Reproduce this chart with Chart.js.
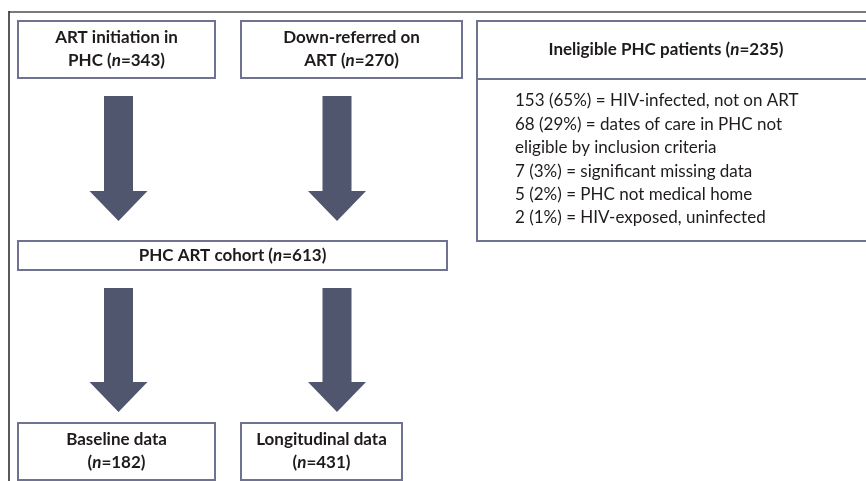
<!DOCTYPE html>
<html>
<head>
<meta charset="utf-8">
<script src="https://cdn.jsdelivr.net/npm/chart.js@4/dist/chart.umd.min.js"></script>
<style>
  html, body { margin: 0; padding: 0; background: #fff; }
  #wrap { width: 866px; height: 481px; }
</style>
</head>
<body>
<div id="wrap"><canvas id="flow" width="866" height="481"></canvas></div>
<script>
// flow boxes: first line, second line prefix, n
const boxTitles = ["ART initiation in", "Down-referred on", "PHC ART cohort", "Baseline data", "Longitudinal data"];
const boxSecond = ["PHC ", "ART ", "", "", ""];
const boxCounts = [343, 270, 613, 182, 431];

// excluded patients
const ineligibleTotal = 235;
const reasonCounts = [153, 68, 7, 5, 2];
const reasonPercents = [65, 29, 3, 2, 1];
const reasonLabels = [
  "HIV-infected, not on ART",
  "dates of care in PHC not\neligible by inclusion criteria",
  "significant missing data",
  "PHC not medical home",
  "HIV-exposed, uninfected"
];

// layout in scale units (x: 0..866, y: 0..481 top-down)
const boxX0 = [18, 241, 18, 18, 241];
const boxX1 = [215, 462, 447, 215, 402];
const boxY0 = [21, 21, 241, 423, 423];
const boxY1 = [78, 78, 270, 480, 480];
const arrowX = [118.5, 337, 118.5, 337];
const arrowTop = [96, 96, 288, 288];
const arrowTip = [221, 221, 412, 412];

const ink = "#1f1b1c";
const edge = "#6f7290";
const arrowFill = "#51566f";
const family = "Lato, 'Open Sans', sans-serif";
const fs = 17;

function drawRich(ctx, parts, cx, cy) {
  let w = 0;
  parts.forEach(p => { ctx.font = p.font; w += ctx.measureText(p.text).width; });
  let x = cx - w / 2;
  ctx.textBaseline = "middle";
  ctx.textAlign = "left";
  parts.forEach(p => {
    ctx.font = p.font;
    ctx.fillText(p.text, x, cy);
    x += ctx.measureText(p.text).width;
  });
}

function nParts(prefix, n) {
  const b = "bold " + fs + "px " + family;
  const bi = "italic bold " + fs + "px " + family;
  return [
    { text: prefix + "(", font: b },
    { text: "n", font: bi },
    { text: "=" + n + ")", font: b }
  ];
}

const flowPlugin = {
  id: "flow",
  afterDraw(chart) {
    const ctx = chart.ctx;
    const sx = chart.scales.x, sy = chart.scales.y;
    const px = v => sx.getPixelForValue(v);
    const py = v => sy.getPixelForValue(v);
    ctx.save();

    // outer frame
    ctx.strokeStyle = "#7b7b7b";
    ctx.lineWidth = 2;
    ctx.beginPath();
    ctx.moveTo(px(9), py(12));
    ctx.lineTo(px(866), py(12));
    ctx.stroke();
    ctx.strokeStyle = "#222";
    ctx.lineWidth = 1.5;
    ctx.beginPath();
    ctx.moveTo(px(9), py(11));
    ctx.lineTo(px(9), py(481));
    ctx.stroke();

    // arrows
    ctx.fillStyle = arrowFill;
    arrowX.forEach((cx, i) => {
      const headTop = arrowTip[i] - 30;
      ctx.beginPath();
      ctx.moveTo(px(cx - 14.5), py(arrowTop[i]));
      ctx.lineTo(px(cx + 14.5), py(arrowTop[i]));
      ctx.lineTo(px(cx + 14.5), py(headTop));
      ctx.lineTo(px(cx + 29), py(headTop));
      ctx.lineTo(px(cx), py(arrowTip[i]));
      ctx.lineTo(px(cx - 29), py(headTop));
      ctx.lineTo(px(cx - 14.5), py(headTop));
      ctx.closePath();
      ctx.fill();
    });

    // boxes
    ctx.strokeStyle = edge;
    ctx.lineWidth = 2;
    boxTitles.forEach((t, i) => {
      ctx.strokeRect(px(boxX0[i]), py(boxY0[i]), px(boxX1[i]) - px(boxX0[i]), py(boxY1[i]) - py(boxY0[i]));
      const cx = (px(boxX0[i]) + px(boxX1[i])) / 2;
      const cy = (py(boxY0[i]) + py(boxY1[i])) / 2;
      ctx.fillStyle = ink;
      if (i === 2) {
        drawRich(ctx, nParts(t + " ", boxCounts[i]), cx, cy);
      } else {
        ctx.font = "bold " + fs + "px " + family;
        ctx.textAlign = "center";
        ctx.textBaseline = "middle";
        ctx.fillText(t, cx, cy - 11.5);
        drawRich(ctx, nParts(boxSecond[i], boxCounts[i]), cx, cy + 11.5);
      }
    });

    // ineligible box
    ctx.strokeRect(px(477), py(21), px(880) - px(477), py(241) - py(21));
    ctx.beginPath();
    ctx.moveTo(px(477), py(79));
    ctx.lineTo(px(880), py(79));
    ctx.stroke();
    ctx.fillStyle = ink;
    drawRich(ctx, nParts("Ineligible PHC patients ", ineligibleTotal), px(666), py(50));

    let y = 101;
    reasonLabels.forEach((lab, i) => {
      const lines = (reasonCounts[i] + " (" + reasonPercents[i] + "%) = " + lab).split("\n");
      lines.forEach(l => {
        ctx.font = fs + "px " + family;
        ctx.textAlign = "left";
        ctx.textBaseline = "middle";
        ctx.fillText(l, px(515), py(y));
        y += 23.4;
      });
    });

    ctx.restore();
  }
};

new Chart(document.getElementById("flow"), {
  type: "scatter",
  data: { datasets: [{ data: [], pointRadius: 0 }] },
  options: {
    responsive: false,
    animation: false,
    layout: { padding: 0 },
    plugins: { legend: { display: false }, tooltip: { enabled: false } },
    scales: {
      x: { type: "linear", min: 0, max: 866, display: false },
      y: { type: "linear", min: 0, max: 481, reverse: true, display: false }
    }
  },
  plugins: [flowPlugin]
});
</script>
</body>
</html>
